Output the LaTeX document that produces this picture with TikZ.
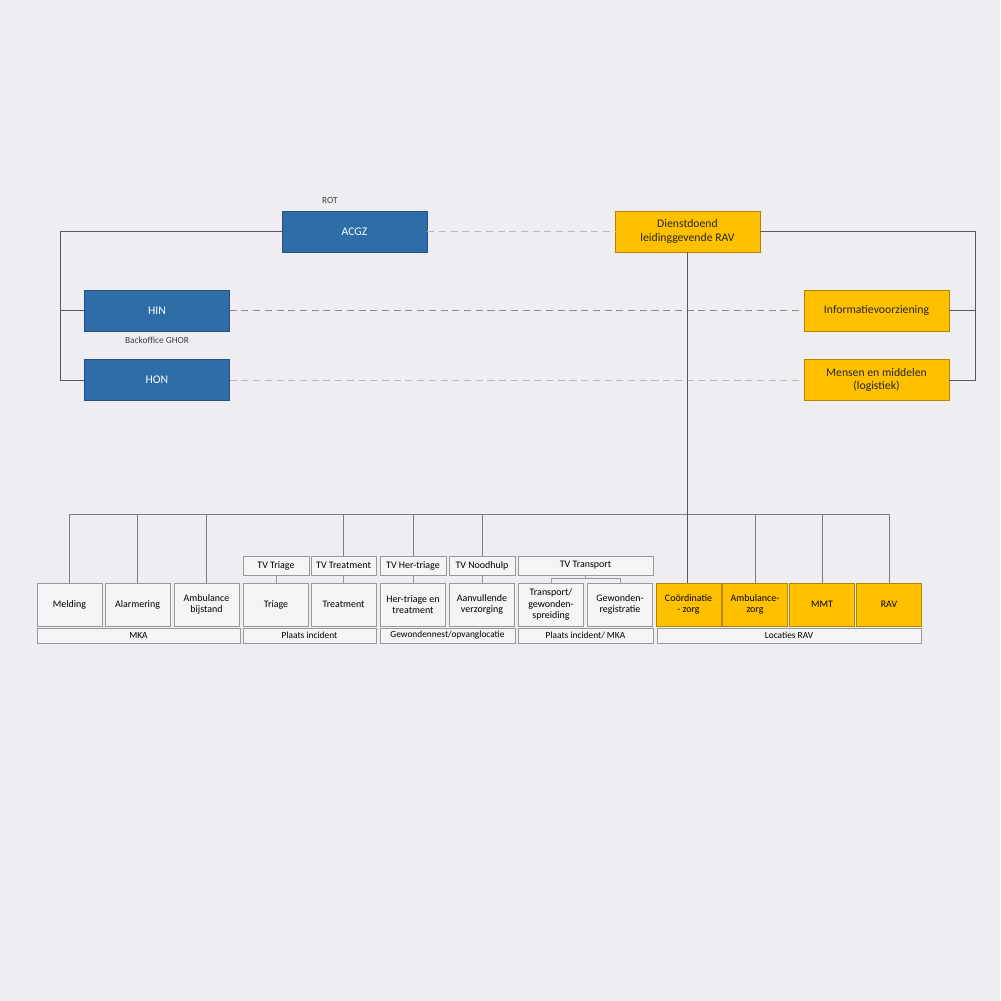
\documentclass[tikz,border=0pt]{standalone}
\usepackage{fontspec}
\setmainfont{Carlito}
\usetikzlibrary{positioning}

\definecolor{ghorblue}{HTML}{2E6DA8}
\definecolor{ravorange}{HTML}{FFC000}
\definecolor{pagebg}{HTML}{EEEEF2}
\definecolor{boxfill}{HTML}{F4F4F7}
\definecolor{linegrey}{HTML}{595959}
\definecolor{busgrey}{HTML}{7F7F7F}

\begin{document}
\begin{tikzpicture}[
  x=0.3mm,y=-0.3mm,
  ghorbox/.style={draw=ghorblue!75!black,fill=ghorblue,text=white,minimum width=43.5mm,minimum height=12.3mm,inner sep=1pt,font=\fontsize{10}{11}\selectfont},
  ravbox/.style={draw=ravorange!70!black,fill=ravorange,text=black!85,align=center,minimum width=43.5mm,minimum height=12.3mm,inner sep=1pt,font=\fontsize{10}{11.5}\selectfont},
  taskbox/.style={draw=gray!80,fill=boxfill,align=center,minimum width=19.6mm,minimum height=12.9mm,inner sep=1pt,font=\fontsize{8.5}{10}\selectfont},
  ravtask/.style={taskbox,draw=ravorange!70!black,fill=ravorange},
  tvbox/.style={draw=gray!80,fill=boxfill,minimum height=5.7mm,inner sep=1pt,font=\fontsize{8.5}{9}\selectfont},
  groupbox/.style={draw=gray!80,fill=boxfill,minimum height=4.5mm,inner sep=0pt,font=\fontsize{8}{9}\selectfont},
  lbl/.style={text=black!75,inner sep=1pt,font=\fontsize{8}{9}\selectfont},
  link/.style={draw=linegrey,line width=0.8pt},
  bus/.style={draw=busgrey,line width=0.6pt},
  peer/.style={draw=gray!70,line width=0.8pt,dash pattern=on 6pt off 4pt}
]
% page
\fill[pagebg] (0,0) rectangle (1000,1001);
\useasboundingbox (0,0) rectangle (1000,1001);

% top: ROT and RAV leadership
\node[ghorbox] (acgz) at (354.5,231.5) {ACGZ};
\node[lbl] (rot) at (330,200) {ROT};
\node[ravbox] (ravlead) at (687.5,231.5) {Dienstdoend\\leidinggevende RAV};
\node[ghorbox] (hin) at (157,310.5) {HIN};
\node[lbl,below=1.2mm of hin] (backoffice) {Backoffice GHOR};
\node[ghorbox] (hon) at (157,380) {HON};
\node[ravbox] (info) at (876.5,310.5) {Informatievoorziening};
\node[ravbox] (mensen) at (876.5,380) {Mensen en middelen\\(logistiek)};

\coordinate (lrail) at (60,231.5);
\coordinate (rrail) at (975,231.5);

\draw[link] (acgz.west) -- (acgz.west -| lrail) |- (hon.west);
\draw[link] (hin.west) -- (hin.west -| lrail);
\draw[link] (ravlead.east) -- (ravlead.east -| rrail) |- (mensen.east);
\draw[link] (info.east) -- (info.east -| rrail);

\draw[peer,draw=gray!55] (acgz) -- (ravlead);
\draw[peer,draw=gray!90] (hin) -- (info);
\draw[peer,draw=gray!55] (hon) -- (mensen);

% bottom row: tasks
\node[taskbox] (melding) at (69.5,604.5) {Melding};
\node[taskbox] (alarm) at (137.5,604.5) {Alarmering};
\node[taskbox] (bijstand) at (206.5,604.5) {Ambulance\\bijstand};
\node[taskbox] (triage) at (276,604.5) {Triage};
\node[taskbox] (treat) at (343.5,604.5) {Treatment};
\node[taskbox] (hertriage) at (413,604.5) {Her-triage en\\treatment};
\node[taskbox] (verzorg) at (482,604.5) {Aanvullende\\verzorging};
\node[taskbox] (transport) at (551,604.5) {Transport/\\gewonden-\\spreiding};
\node[taskbox] (registr) at (620,604.5) {Gewonden-\\registratie};
\node[ravtask] (coord) at (688.5,604.5) {Coördinatie\\- zorg};
\node[ravtask] (ambzorg) at (755,604.5) {Ambulance-\\zorg};
\node[ravtask] (mmt) at (822,604.5) {MMT};
\node[ravtask] (rav) at (889,604.5) {RAV};

% team leaders
\node[tvbox,minimum width=19.8mm] (tvtriage) at (276,565.5) {TV Triage};
\node[tvbox,minimum width=19.5mm] (tvtreat) at (343.5,565.5) {TV Treatment};
\node[tvbox,minimum width=19.8mm] (tvher) at (413,565.5) {TV Her-triage};
\node[tvbox,minimum width=19.8mm] (tvnood) at (482,565.5) {TV Noodhulp};
\node[tvbox,minimum width=40.5mm] (tvtrans) at (585.5,565.5) {TV Transport};

% locations
\node[groupbox,minimum width=60.9mm] (mka) at (138.5,635.5) {MKA};
\node[groupbox,minimum width=39.9mm] (plaats) at (309.5,635.5) {Plaats incident};
\node[groupbox,minimum width=40.5mm] (gewnest) at (447.5,635.5) {Gewondennest/opvanglocatie};
\node[groupbox,minimum width=40.5mm] (plaatsmka) at (585.5,635.5) {Plaats incident/ MKA};
\node[groupbox,minimum width=79.2mm] (locrav) at (789,635.5) {Locaties RAV};

% bus
\coordinate (busy) at (0,514);
\draw[bus] (melding.north |- busy) -- (rav.north |- busy);
\foreach \n in {melding,alarm,bijstand,tvtreat,tvher,tvnood,ambzorg,mmt,rav}
  \draw[bus] (\n.north) -- (\n.north |- busy);
\draw[link] (ravlead.south) -- (ravlead.south |- coord.north);

\foreach \a/\b in {tvtriage/triage,tvtreat/treat,tvher/hertriage,tvnood/verzorg}
  \draw[bus,draw=gray!80] (\a.south -| \b.north) -- (\b.north);
\draw[bus,draw=gray!80] (tvtrans.south) -- ++(0,3) coordinate (tvjoin);
\draw[bus,draw=gray!80] (transport.north) |- (tvjoin) -| (registr.north);
\end{tikzpicture}
\end{document}
